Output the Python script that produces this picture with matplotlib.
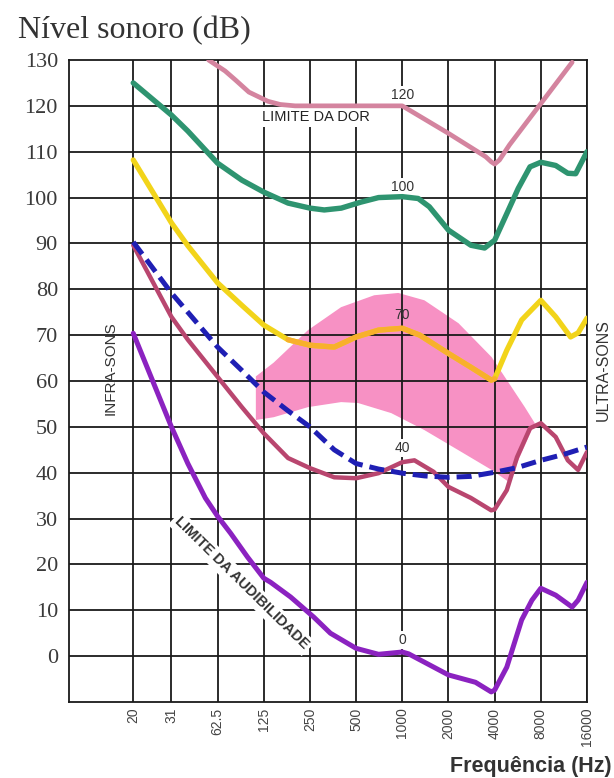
import numpy as np
import matplotlib
matplotlib.use("Agg")
import matplotlib.pyplot as plt

# x tick positions (Hz) and their printed labels
freq_ticks = [20, 31.25, 62.5, 125, 250, 500, 1000, 2000, 4000, 8000, 16000]
freq_labels = ["20", "31", "62.5", "125", "250", "500", "1000", "2000", "4000", "8000", "16000"]
db_ticks = list(range(0, 131, 10))

# limite da dor (120)
f120 = [54.6, 70, 82, 100, 133, 160, 200, 1000, 2000, 3500, 3800, 4000, 4300, 5000, 8000, 12800]
db120 = [130, 127.6, 125.6, 123, 121, 120.3, 120, 120, 114, 108.9, 107.8, 107.3, 108.2, 111.5, 120.5, 129.5]

# 100
f100 = [20, 31.25, 40, 62.5, 90, 125, 180, 250, 310, 400, 536, 700, 1000, 1270, 1500, 2000,
        2800, 3440, 4000, 4800, 5700, 6800, 8000, 10000, 12000, 13500, 16000]
db100 = [125, 118, 114.5, 107.5, 103.8, 101.2, 98.8, 97.7, 97.3, 97.7, 99, 100, 100.2, 99.8, 98, 92.9,
         89.6, 89, 90.7, 96.5, 102, 106.7, 107.7, 107, 105.3, 105.2, 110]

# 70
f70 = [20, 31.25, 40, 62.5, 90, 125, 180, 250, 360, 500, 700, 1000, 1300, 2000, 2800, 3800, 4000,
       4800, 6000, 8000, 10000, 12500, 14000, 16000]
db70 = [108.2, 94.5, 89.5, 81.4, 76.5, 72.2, 69, 67.8, 67.4, 69.6, 71.1, 71.5, 70, 66, 63, 60.2, 60.5,
        66.7, 73.3, 77.6, 74, 69.6, 70.5, 73.7]

# 40
f40 = [20, 31.25, 40, 62.5, 90, 125, 180, 250, 360, 500, 700, 1000, 1200, 1600, 2000, 2800, 3800,
       4000, 4800, 5600, 6800, 8000, 10000, 12000, 14000, 16000]
db40 = [89.6, 74, 69, 60.9, 54.3, 48.6, 43.2, 41, 39, 38.8, 39.9, 42.3, 42.7, 40.2, 36.9, 34.5, 31.8,
        32, 36.2, 43.4, 49.7, 50.8, 47.8, 42.7, 40.6, 44.5]

# curva tracejada azul
f_blue = [20, 31.25, 62.5, 90, 125, 180, 250, 360, 500, 700, 1000, 1400, 2000, 2800, 4000, 5600, 8000, 11300, 16000]
db_blue = [90.3, 79.2, 67.4, 62.3, 57.6, 53.5, 50, 45, 42, 40.8, 39.9, 39.3, 39, 39.2, 40.1, 41.1, 42.7, 44, 45.6]

# limite da audibilidade (0)
f0 = [20, 31.25, 40, 52, 62.5, 76, 98, 125, 138.6, 187, 265, 340, 500, 700, 1000, 1100, 2000, 3000,
      3800, 4000, 4800, 6000, 7000, 8000, 10000, 12800, 14000, 16000]
db0 = [70.4, 50, 42, 34.5, 30.5, 26.8, 21.6, 17, 16.1, 12.9, 8.5, 5, 1.7, 0.4, 0.9, 0.5, -4.1, -5.7,
       -7.8, -7.4, -2.4, 7.9, 12.2, 14.8, 13.3, 10.7, 12.2, 16.1]

# zona rosa (fala)
band_upper_f = [111, 145, 243, 399, 656, 942, 1393, 2325, 3825, 6290, 7310]
band_upper_db = [61, 64, 71.1, 76.1, 78.7, 79.2, 77.6, 72.6, 65.2, 54.3, 50.8]
band_lower_f = [111, 145, 243, 399, 515, 847, 1393, 2325, 3825, 4940]
band_lower_db = [51.5, 52.1, 54.3, 55.4, 55.2, 53, 49.3, 44.9, 40.6, 38]

K_LOW = 1.283  # the drawing stretches the 20-31 Hz octave


def fwd(f):
    f = np.maximum(np.asarray(f, dtype=float), 1e-6)
    u = np.log2(f / 31.25)
    return np.where(u < 0, u * K_LOW, u)


def inv(u):
    u = np.asarray(u, dtype=float)
    return 31.25 * 2 ** np.where(u < 0, u / K_LOW, u)


SERIF = ["Liberation Serif", "DejaVu Serif"]
SANS = ["Liberation Sans", "DejaVu Sans"]

fig = plt.figure(figsize=(6.14, 7.78), dpi=100)
ax = fig.add_axes([69 / 614, 76 / 778, 518 / 614, 642 / 778])
ax.set_xscale("function", functions=(fwd, inv))
ax.set_xlim(9.43, 16000)
ax.set_ylim(-10, 130)

# speech band
poly_f = band_upper_f + band_lower_f[::-1]
poly_db = band_upper_db + band_lower_db[::-1]
ax.fill(poly_f, poly_db, color="#f791c4", lw=0, zorder=1)

# grid
for f in freq_ticks:
    ax.axvline(f, color="#1a1a1a", lw=1.3, zorder=1.5)
for d in db_ticks[:-1]:
    ax.axhline(d, color="#1a1a1a", lw=1.3, zorder=1.5)

ax.set_xticks(freq_ticks)
ax.set_xticklabels(freq_labels, rotation=90, family=SANS, fontsize=10, color="#444")
ax.set_yticks(db_ticks)
ax.set_yticklabels([str(d) for d in db_ticks], family=SERIF, fontsize=16, color="#3a3a3a")
ax.tick_params(axis="x", length=0, pad=4)
ax.tick_params(axis="y", length=0, pad=8)
ax.minorticks_off()
for s in ax.spines.values():
    s.set_color("#1a1a1a")
    s.set_linewidth(1.3)

kw = dict(solid_capstyle="round", solid_joinstyle="round", zorder=3)
ax.plot(f120, db120, color="#d4849f", lw=3.4, **kw)
ax.plot(f100, db100, color="#2e9470", lw=3.9, **kw)

# 70 phon: yellow at the ends, orange in the middle part (180 Hz - 4 kHz)
ax.plot(f70, db70, color="#f2d41a", lw=3.8, **kw)
ax.plot(f70[6:17], db70[6:17], color="#f8b02c", lw=3.8, **kw)

ax.plot(f40, db40, color="#b9466f", lw=3.2, **kw)
ax.plot(f_blue, db_blue, color="#1f1fb4", lw=3.6, dashes=(3.0, 1.4), dash_capstyle="butt", zorder=3)
ax.plot(f0, db0, color="#8b22c0", lw=3.6, **kw)

box = dict(boxstyle="square,pad=0.12", fc="white", ec="none")
ax.text(1000, 122.4, "120", ha="center", va="center", fontsize=10, family=SANS, color="#333", bbox=box, zorder=1.8)
ax.text(1000, 102.3, "100", ha="center", va="center", fontsize=10, family=SANS, color="#333", bbox=box, zorder=1.8)
ax.text(1000, 74.4, "70", ha="center", va="center", fontsize=10, family=SANS, color="#333", zorder=1.8)
ax.text(1000, 45.4, "40", ha="center", va="center", fontsize=10, family=SANS, color="#333", bbox=box, zorder=1.8)
ax.text(1000, 3.5, "0", ha="center", va="center", fontsize=10, family=SANS, color="#333", bbox=box, zorder=1.8)
ax.text(274, 117.6, "LIMITE DA DOR", ha="center", va="center", fontsize=10.5, family=SANS,
        color="#222", bbox=dict(boxstyle="square,pad=0.2", fc="white", ec="none"), zorder=1.8)
ax.text(89.7, 15.9, "LIMITE DA AUDIBILIDADE", ha="center", va="center", rotation=-44.5,
        rotation_mode="anchor", fontsize=10.5, fontweight="bold", family=SANS, color="#333",
        bbox=dict(boxstyle="square,pad=0.2", fc="white", ec="none"), zorder=1.8)
ax.text(42 / 518, (702 - 368) / 642, "INFRA-SONS", transform=ax.transAxes, rotation=90,
        ha="center", va="center", fontsize=11, family=SANS, color="#333")

fig.text(603 / 614, 1 - 370 / 778, "ULTRA-SONS", rotation=90, ha="center", va="center",
         fontsize=11.5, family=SANS, color="#333")
fig.text(18 / 614, 1 - 38 / 778, "Nível sonoro (dB)", ha="left", va="baseline",
         fontsize=23, family=SERIF, color="#333")
fig.text(612 / 614, 1 - 772 / 778, "Frequência (Hz)", ha="right", va="baseline",
         fontsize=15.5, fontweight="bold", family=SANS, color="#333")

fig.savefig("out.png", dpi=100, facecolor="white")
